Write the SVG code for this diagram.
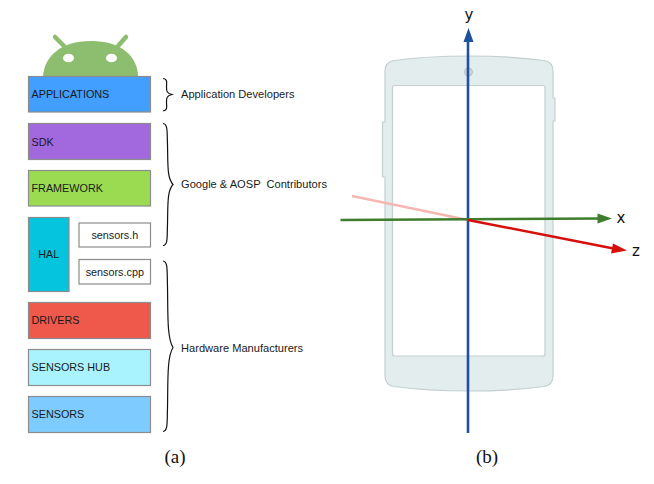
<svg xmlns="http://www.w3.org/2000/svg" width="654" height="484" viewBox="0 0 654 484">
<style>
.box{stroke:#8c8c8c;stroke-width:1.2}
.t{font-family:"Liberation Sans",Arial,sans-serif;font-size:10.8px;fill:#1a1a1a}
.g{font-size:11.1px;white-space:pre}
.m{text-anchor:middle}
.cap{font-family:"Liberation Serif","Times New Roman",serif;font-size:19px;fill:#111;text-anchor:middle}
.ax{font-family:"DejaVu Sans",sans-serif;font-size:15px;fill:#111;text-anchor:middle}
.brace{fill:none;stroke:#111;stroke-width:1.2}
.phone{fill:#e3edee;stroke:#c3d0d0;stroke-width:1.2}
</style>
<rect width="654" height="484" fill="#fff"/>
<g id="android">
<path d="M43 76C44.500 57 60 41 91 41C122 41 137.500 57 138 76Z" fill="#8dbd6e"/>
<path d="M64 46L55 37M118 46L126 37" stroke="#8dbd6e" stroke-width="4.500" stroke-linecap="round" fill="none"/>
<ellipse cx="68.500" cy="58" rx="5.500" ry="4.300" fill="#fff"/>
<ellipse cx="111.500" cy="58" rx="5.500" ry="4.300" fill="#fff"/>
</g>
<g id="applications"><rect class="box" x="28.500" y="76.500" width="122" height="35.500" fill="#429eff"/><text class="t" x="31.500" y="97.500">APPLICATIONS</text></g>
<g id="sdk"><rect class="box" x="28.500" y="123.500" width="122" height="36" fill="#a269de"/><text class="t" x="31.500" y="145.500">SDK</text></g>
<g id="framework"><rect class="box" x="28.500" y="170.500" width="122" height="35.500" fill="#9bdb52"/><text class="t" x="31.500" y="191.500">FRAMEWORK</text></g>
<g id="hal"><rect class="box" x="28.500" y="217.500" width="40.500" height="74" fill="#04c4de"/><text class="t m" x="48.700" y="258">HAL</text></g>
<g id="sensors-h"><rect class="box" x="79" y="223" width="71.500" height="24" fill="#fff"/><text class="t m" x="114.800" y="239">sensors.h</text></g>
<g id="sensors-cpp"><rect class="box" x="79" y="259.500" width="71.500" height="24.500" fill="#fff"/><text class="t m" x="114.800" y="276">sensors.cpp</text></g>
<g id="drivers"><rect class="box" x="28.500" y="302.500" width="122" height="36" fill="#ee594c"/><text class="t" x="31.500" y="324">DRIVERS</text></g>
<g id="sensors-hub"><rect class="box" x="28.500" y="349.500" width="122" height="36" fill="#a9f3ff"/><text class="t" x="31.500" y="371">SENSORS HUB</text></g>
<g id="sensors"><rect class="box" x="28.500" y="396.500" width="122" height="36" fill="#7dcbff"/><text class="t" x="31.500" y="418">SENSORS</text></g>
<g id="braces">
<path class="brace" d="M163 78.500C168 79 166.500 83 166.500 87C166.500 91 166.500 93 172 94.500C166.500 96 166.500 98 166.500 102C166.500 106 168 110.500 163 111"/>
<path class="brace" d="M163 123.500C168 124 167 132 167.500 145C168 165 167 178 173 184.500C167 191 168 205 167.500 224C167 238 168 245 163 245.500"/>
<path class="brace" d="M163 261C168 261.500 167 270 167.500 287C168 315 167 338 173 347.500C167 357 168 380 167.500 408C167 423 168 431 163 431.500"/>
</g>
<g id="group-labels">
<text class="t g" x="181" y="97.500">Application Developers</text>
<text class="t g" x="181" y="188">Google &amp; AOSP  Contributors</text>
<text class="t g" x="181" y="351.500">Hardware Manufacturers</text>
</g>
<g id="phone">
<path class="phone" d="M385 71C385 65 388 61.500 394 60.500C420 57 445 56 469 56C493 56 518 57 544 60.500C550 61.500 553 65 553 71V98H555V121H553V376C553 382 550 385.500 544 386.500C518 390 493 391 469 391C445 391 420 390 394 386.500C388 385.500 385 382 385 376V177H382.500V122H385Z"/>
<rect x="392.500" y="85.500" width="152.500" height="270.500" rx="2" fill="#fff" stroke="#c3d0d0" stroke-width="1.200"/>
<circle cx="468.500" cy="72" r="4" fill="#ced8da" stroke="#b5c1c3" stroke-width="1"/>
</g>
<g id="connectors">
<path d="M352 196L468 220" stroke="#f5b7b2" stroke-width="2.400" fill="none"/>
<path d="M468 433V40" stroke="#1f50a3" stroke-width="2.600" fill="none"/>
<path d="M468.500 28L463.500 42H473.500Z" fill="#1f4f9f"/>
<path d="M340.500 220L600 218.500" stroke="#3e7d2c" stroke-width="2.400" fill="none"/>
<path d="M612 218.500L597.500 213.500V223.500Z" fill="#3e7d2c"/>
<path d="M468 220L616 249" stroke="#d60f0b" stroke-width="2.400" fill="none"/>
<path d="M627 250.500L613 243.500L611 253.500Z" fill="#d60f0b"/>
</g>
<g id="captions">
<text class="ax" x="469" y="20">y</text>
<text class="ax" x="621" y="222.500">x</text>
<text class="ax" x="636" y="256">z</text>
<text class="cap" x="175" y="463">(a)</text>
<text class="cap" x="487" y="463">(b)</text>
</g>
</svg>
